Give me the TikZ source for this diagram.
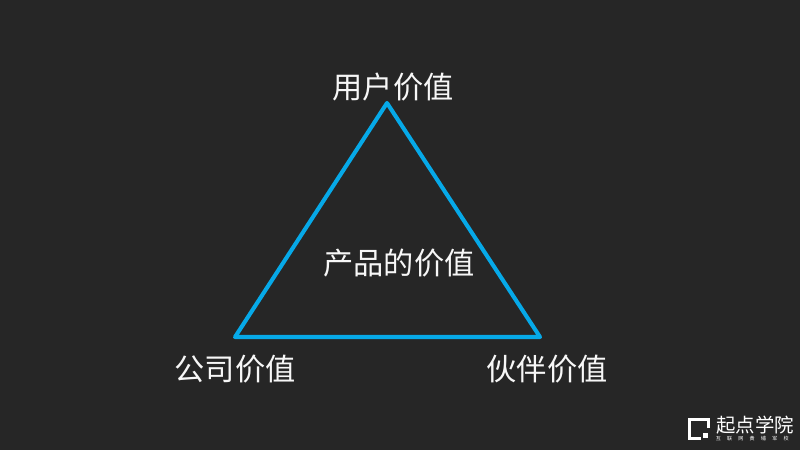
\documentclass[tikz,border=0pt]{standalone}
\usepackage{fontspec}
\setmainfont{Noto Sans CJK SC}
\definecolor{bgdark}{HTML}{262626}
\definecolor{edgeblue}{HTML}{06A9E8}
\definecolor{labelwhite}{HTML}{F7F7F7}
\tikzset{
    valuelabel/.style={text=labelwhite,font=\fontsize{21.5pt}{24pt}\selectfont,inner sep=0pt},
    logotext/.style={text=white,inner sep=0pt}
}
\begin{document}
\begin{tikzpicture}[x=0.025cm,y=-0.025cm]
    \fill[bgdark] (0,0) rectangle (800,450);
    \coordinate (top) at (387,103);
    \coordinate (left) at (235,337);
    \coordinate (right) at (540,337);
    \draw[edgeblue,line width=2.9pt,line join=round] (top)--(right)--(left)--cycle;
    \node[valuelabel] (user) at (393,87){用户价值};
    \node[valuelabel] (product) at (399,263){产品的价值};
    \node[valuelabel] (company) at (235,369){公司价值};
    \node[valuelabel] (partner) at (547,369){伙伴价值};
    % logo
    \draw[white,line width=2.2pt] (708.5,428)--(708.5,419.5)--(689.5,419.5)--(689.5,438.5)--(701,438.5);
    \fill[white] (703,433) rectangle (708,438);
    \node[logotext,font=\fontsize{13.8pt}{14pt}\selectfont] (logo) at (755,425.5){起点学院};
    \foreach \c [count=\i] in {互,联,网,黄,埔,军,校}{
        \node[logotext,font=\fontsize{3.6pt}{4pt}\selectfont] (sub\i) at (707+\i*11.3,438.5){\c};
    }
\end{tikzpicture}
\end{document}
